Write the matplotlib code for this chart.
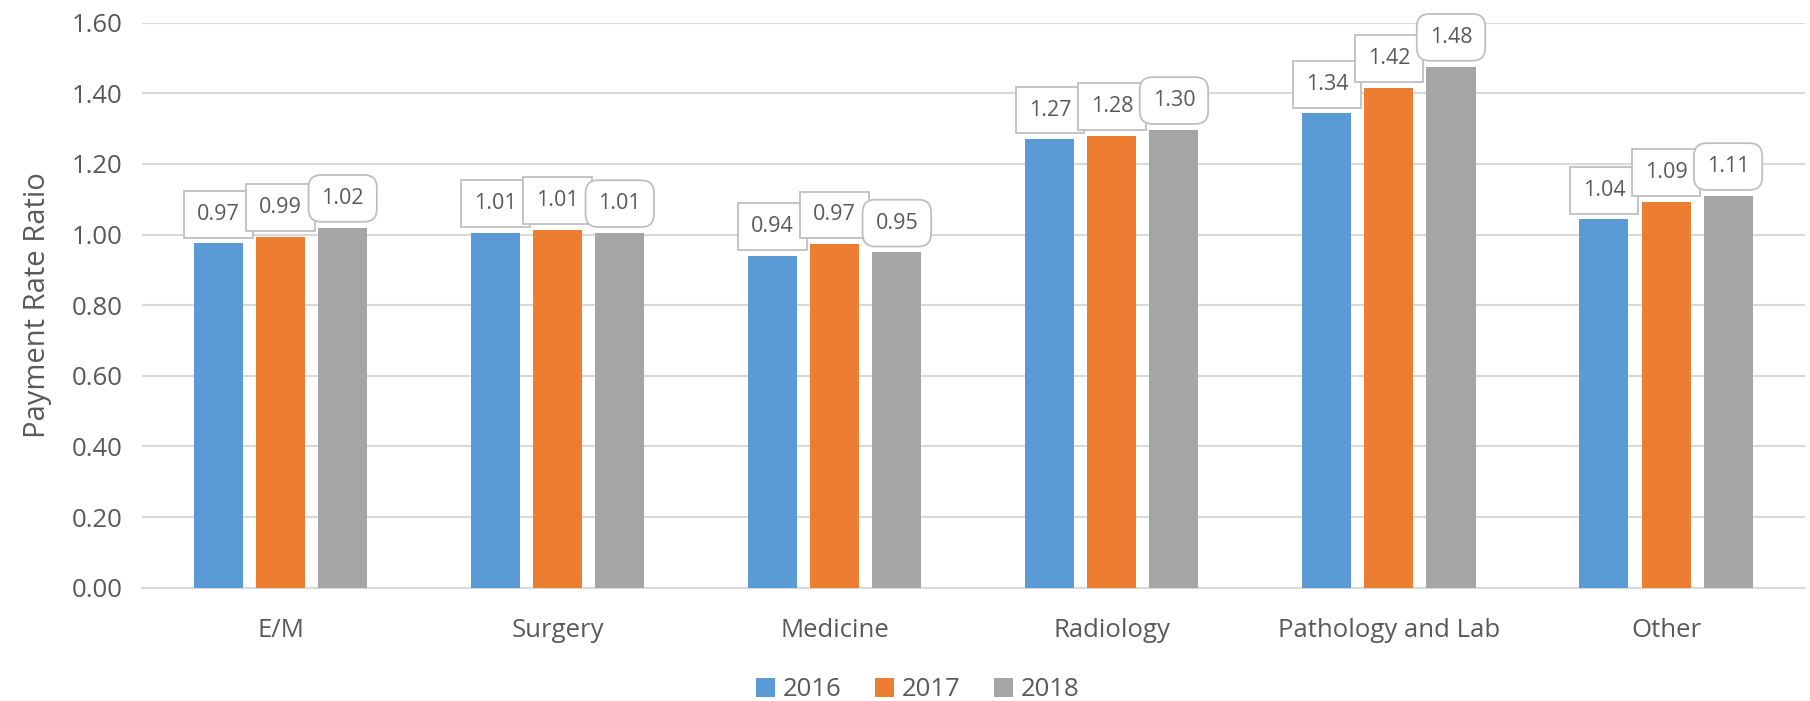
import numpy as np
import matplotlib
matplotlib.use("Agg")
import matplotlib.pyplot as plt

categories = ["E/M", "Surgery", "Medicine", "Radiology", "Pathology and Lab", "Other"]
years = ["2016", "2017", "2018"]
v2016 = [0.975, 1.005, 0.94, 1.27, 1.343, 1.043]
v2017 = [0.993, 1.013, 0.973, 1.28, 1.415, 1.093]
v2018 = [1.02, 1.005, 0.95, 1.297, 1.476, 1.11]
labels2016 = ["0.97", "1.01", "0.94", "1.27", "1.34", "1.04"]
labels2017 = ["0.99", "1.01", "0.97", "1.28", "1.42", "1.09"]
labels2018 = ["1.02", "1.01", "0.95", "1.30", "1.48", "1.11"]

colors = ["#5B9BD5", "#ED7D31", "#A5A5A5"]
txt = "#595959"
grid = "#D9D9D9"

plt.rcParams["font.family"] = ["Open Sans", "DejaVu Sans"]

fig = plt.figure(figsize=(18.10, 7.01), dpi=100)
ax = fig.add_axes([0.0785, 0.1616, 0.9185, 0.806])

x = np.arange(len(categories))
w = 0.177
step = 0.224
series = [v2016, v2017, v2018]
lbls = [labels2016, labels2017, labels2018]

for i, (vals, lab) in enumerate(zip(series, lbls)):
    pos = x + (i - 1) * step
    ax.bar(pos, vals, width=w, color=colors[i], label=years[i], zorder=3)
    style = "round,pad=0.6,rounding_size=0.6" if i == 2 else "square,pad=0.6"
    for px, v, t in zip(pos, vals, lab):
        ax.annotate(t, (px, v), xytext=(0, 21), textcoords="offset points",
                    ha="center", va="center", fontsize=15.5, color=txt, zorder=5,
                    bbox=dict(boxstyle=style, fc="white", ec="#BFBFBF", lw=1.3))

ax.set_xlim(-0.5, len(categories) - 0.5)
ax.set_ylim(0, 1.6)
ax.set_yticks(np.arange(0, 1.61, 0.2))
ax.set_yticklabels(["%.2f" % t for t in np.arange(0, 1.61, 0.2)])
ax.set_xticks(x)
ax.set_xticklabels(categories)
ax.tick_params(axis="both", length=0, labelsize=18.5, labelcolor=txt)
ax.tick_params(axis="x", pad=22)
ax.tick_params(axis="y", pad=14)
ax.yaxis.grid(True, color=grid, lw=1.5, zorder=0)
ax.set_axisbelow(True)
for s in ["top", "right", "left"]:
    ax.spines[s].set_visible(False)
ax.spines["bottom"].set_color(grid)
ax.spines["bottom"].set_linewidth(1.5)

ax.set_ylabel("Payment Rate Ratio", fontsize=21, color=txt, labelpad=14)

fig.legend(loc="lower center", bbox_to_anchor=(0.507, -0.035), ncol=3, frameon=False,
           fontsize=18.5, labelcolor=txt, handlelength=0.75, handleheight=0.75,
           handletextpad=0.3, columnspacing=1.3)

fig.savefig("out.png", dpi=100)
